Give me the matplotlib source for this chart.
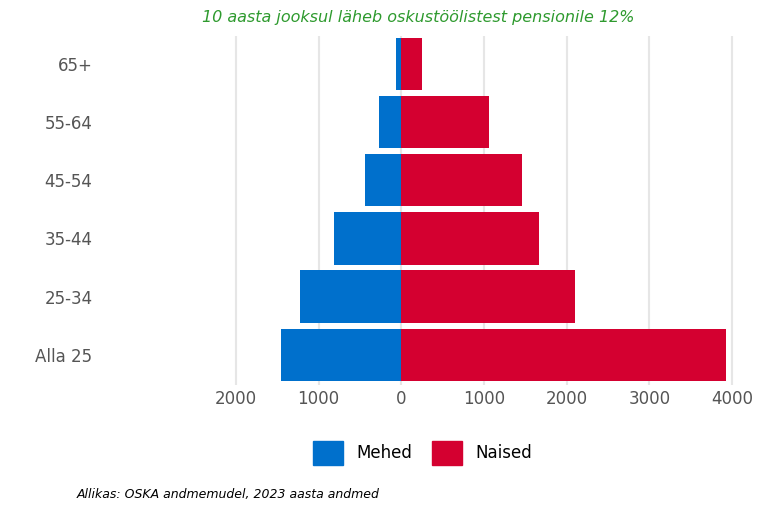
import matplotlib.pyplot as plt
import matplotlib.patches as mpatches

groups = ['Alla 25', '25-34', '35-44', '45-54', '55-64', '65+']
mehed = [1450, 1220, 810, 440, 265, 60]
naised = [3930, 2095, 1670, 1455, 1065, 255]
ticks = [-2000, -1000, 0, 1000, 2000, 3000, 4000]

fig = plt.figure(figsize=(7.68, 5.12), dpi=100)
ax = fig.add_axes([0.124, 0.248, 0.84, 0.682])

y = range(len(groups))
ax.barh(y, [-m for m in mehed], height=0.9, color='#0070cc', zorder=3)
ax.barh(y, naised, height=0.9, color='#d40030', zorder=3)

ax.set_xlim(-3700, 4100)
ax.set_ylim(-0.52, 5.48)
ax.set_xticks(ticks)
ax.set_xticklabels([str(abs(t)) for t in ticks])
ax.set_yticks(list(y))
ax.set_yticklabels(groups)
ax.tick_params(length=0, labelsize=12, colors='#555555')
ax.tick_params(axis='y', pad=2)
ax.grid(axis='x', color='#e6e6e6', linewidth=1.5, zorder=0)
for s in ax.spines.values():
    s.set_visible(False)

fig.text(0.545, 0.965, '10 aasta jooksul läheb oskustöölistest pensionile 12%',
         ha='center', va='center', color='#2e9a2e', style='italic', fontsize=11.5)

handles = [mpatches.Patch(color='#0070cc', label='Mehed'),
           mpatches.Patch(color='#d40030', label='Naised')]
fig.legend(handles=handles, loc='center', bbox_to_anchor=(0.55, 0.115), ncol=2,
           frameon=False, fontsize=12, handlelength=1.8, handleheight=1.8,
           columnspacing=1.2)

fig.text(0.1, 0.035, 'Allikas: OSKA andmemudel, 2023 aasta andmed',
         style='italic', fontsize=9, va='center')

fig.savefig('out.png')
